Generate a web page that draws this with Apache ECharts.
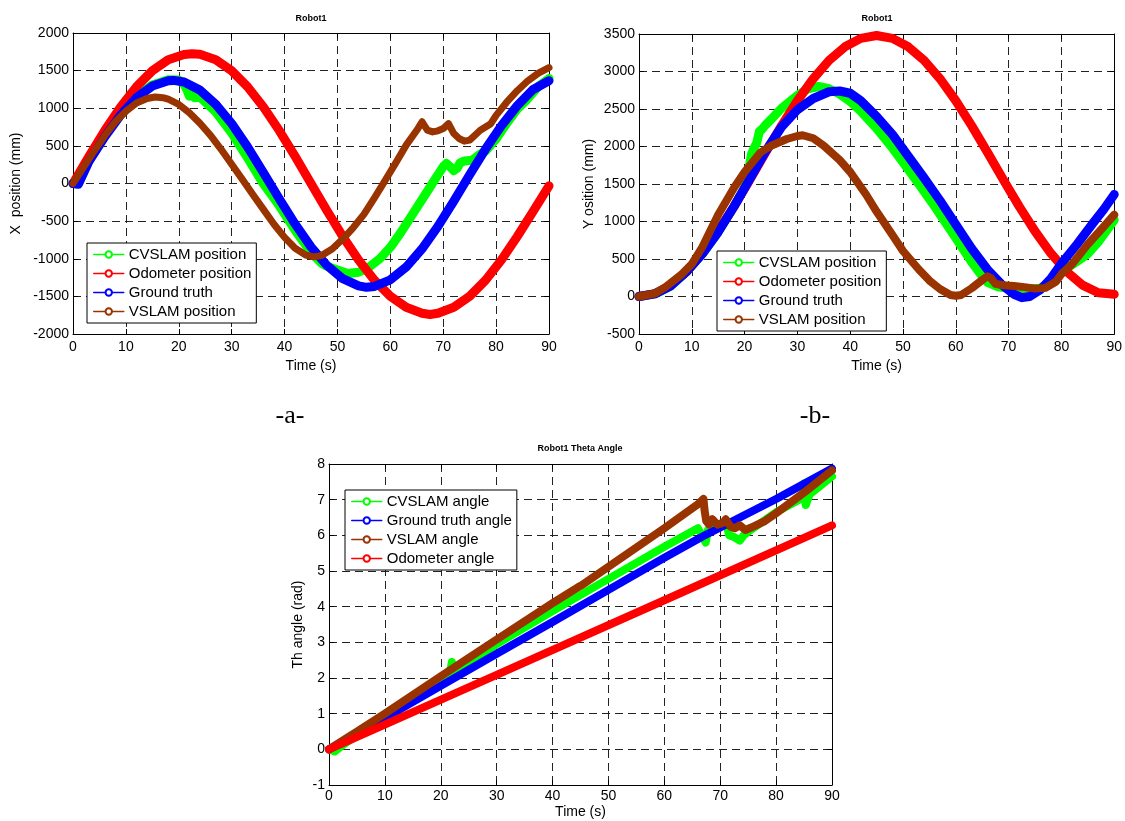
<!DOCTYPE html>
<html>
<head>
<meta charset="utf-8">
<script src="https://cdn.jsdelivr.net/npm/echarts@6/dist/echarts.min.js"></script>
<style>
  html, body { margin: 0; padding: 0; background: #fff; }
  #chart { width: 1125px; height: 821px; }
</style>
</head>
<body>
<div id="chart"></div>
<script>
// ---- Panel a: X position (mm) over time (s), [t, value] pairs ----
const posXCvslam = [[0,0],[1,-5],[3,300],[6,635],[9,925],[12,1155],[15,1310],[18,1380],[20,1375],[21,1320],[21.5,1250],[22,1160],[22.5,1200],[23,1140],[24,1150],[27,950],[30,669],[33,340],[36,-5],[39,-295],[42,-623],[45,-916],[47,-1060],[48,-1100],[50,-1150],[52,-1195],[54,-1180],[56,-1110],[58,-1000],[60,-848],[62,-650],[64,-430],[66,-212],[68,6],[70,225],[70.6,265],[71.2,230],[72,170],[72.6,200],[73.2,275],[74,300],[75.5,310],[77,390],[78,430],[80,590],[82,800],[84,990],[85.5,1090],[86,1130],[88,1290],[90,1395]];
const posXOdometer = [[0,0],[3,360],[6,704],[9,1017],[12,1286],[15,1498],[18,1645],[21,1715],[22.5,1725],[24,1718],[27,1645],[30,1498],[33,1286],[36,1017],[39,704],[42,360],[45,0],[48,-360],[51,-704],[54,-1017],[57,-1286],[60,-1498],[63,-1645],[66,-1725],[67.5,-1740],[69,-1725],[72,-1645],[75,-1498],[78,-1286],[81,-1017],[84,-704],[87,-370],[90,-30]];
const posXGround = [[0,0],[1,-10],[3,290],[6,620],[9,910],[12,1140],[15,1295],[18,1365],[19,1370],[21,1348],[24,1241],[27,1052],[30,796],[33,487],[36,146],[39,-203],[42,-539],[45,-843],[48,-1088],[51,-1265],[54,-1360],[55.5,-1380],[57,-1368],[60,-1280],[63,-1111],[66,-868],[69,-571],[72,-234],[75,116],[78,458],[81,768],[84,1035],[87,1250],[90,1365]];
const posXVslam = [[0,0],[2,215],[4,430],[6,635],[8,820],[10,960],[12,1070],[14,1130],[15.5,1150],[17,1140],[18,1120],[20,1050],[22,940],[24,800],[26,640],[28,455],[30,255],[32,55],[34,-145],[36,-344],[38,-541],[40,-716],[42,-860],[44,-950],[45.5,-975],[47,-957],[49,-870],[51,-738],[53,-585],[55,-410],[57,-190],[59,37],[61,270],[63,510],[65,707],[66,820],[67,710],[68,686],[69,700],[70,730],[71,795],[72,664],[73,598],[74,563],[75,576],[76,642],[77,707],[78,751],[79,795],[80,905],[82,1080],[84,1233],[86,1365],[88,1466],[90,1540]];

// ---- Panel b: Y position (mm) over time (s) ----
const posYCvslam = [[0,0],[3,35],[6,140],[9,330],[12,570],[15,860],[18,1200],[20,1450],[20.8,1700],[21.3,1900],[21.8,1980],[22.3,2050],[22.8,2200],[23.3,2230],[24,2290],[25,2360],[27,2510],[30,2680],[32,2770],[34,2800],[36,2770],[38,2700],[40,2600],[42,2470],[45,2240],[48,1980],[50,1790],[53,1500],[56,1200],[60,780],[63,460],[65,270],[66,190],[68,130],[70,110],[73,100],[76,110],[78,200],[80,330],[83,470],[85,570],[87,730],[90,1020]];
const posYOdometer = [[0,0],[3,38],[6,151],[9,332],[12,576],[15,870],[18,1202],[21,1558],[24,1922],[27,2278],[30,2610],[33,2904],[36,3148],[39,3329],[42,3442],[45,3480],[48,3442],[51,3329],[54,3148],[57,2904],[60,2610],[63,2278],[66,1922],[69,1558],[72,1202],[75,870],[78,576],[81,332],[84,151],[87,50],[90,30]];
const posYGround = [[0,0],[3,35],[6,140],[9,330],[12,570],[15,860],[18,1200],[21,1570],[24,1940],[27,2260],[30,2490],[33,2640],[36,2730],[38,2740],[40,2710],[42,2610],[45,2400],[48,2160],[51,1870],[54,1580],[57,1280],[60,960],[63,640],[66,360],[69,140],[71,30],[72.5,-15],[74,0],[76,90],[78,240],[80,440],[83,700],[86,980],[88,1160],[90,1360]];
const posYVslam = [[0,0],[3,40],[5,126],[8,290],[10,433],[12,660],[15,1090],[18,1450],[20,1660],[23,1920],[25,2010],[28,2100],[30,2140],[31,2150],[33,2110],[35,2010],[38,1820],[40,1660],[43,1360],[45,1133],[48,820],[50,607],[53,360],[55,213],[57,100],[59,20],[60,10],[61,20],[63,110],[65,220],[66,270],[66.6,250],[67.5,170],[69,150],[71,140],[73,125],[75,105],[77,115],[79,200],[80,300],[82,430],[85,696],[88,930],[90,1090]];

// ---- Panel c: heading angle (rad) over time (s) ----
const thCvslam = [[0,0],[1,-0.06],[3,0.18],[10,0.9],[20,1.95],[21.5,2.05],[22,2.45],[22.4,2.15],[30,2.95],[40,3.88],[50,4.78],[60,5.68],[66,6.2],[67.4,5.8],[67.8,6.15],[70,6.3],[71,6.38],[71.6,6.0],[72.5,5.95],[73.5,5.85],[74.2,6.0],[75,6.1],[80,6.65],[84.7,7.05],[85,7.45],[85.3,6.85],[86,7.15],[90,7.65]];
const thGround = [[0,0],[10,0.88],[20,1.78],[30,2.68],[40,3.57],[50,4.47],[60,5.37],[67,5.98],[70,6.22],[80,7.02],[90,7.87]];
const thVslam = [[0,0],[3,0.3],[5,0.5],[10,1.0],[20,2.05],[30,3.08],[40,4.1],[44.6,4.55],[44.8,4.5],[45.2,4.6],[50,5.12],[60,6.2],[66,6.87],[67,7.02],[67.2,6.7],[67.5,6.4],[68,6.3],[68.6,6.45],[69.5,6.3],[70.5,6.35],[71,6.45],[71.8,6.25],[72.6,6.2],[73.5,6.28],[74.5,6.15],[76,6.25],[78,6.4],[80,6.62],[85,7.2],[90,7.82]];
const thOdometer = [[0,0],[30,2.09],[60,4.18],[90,6.28]];

const posNames = ['CVSLAM position', 'Odometer position', 'Ground truth', 'VSLAM position'];
const angleNames = ['CVSLAM angle', 'Ground truth angle', 'VSLAM angle', 'Odometer angle'];

const GREEN = '#00ff00', RED = '#ff0000', BLUE = '#0000ff', BROWN = '#993300';
const FONT = "'Liberation Sans', Arial, sans-serif";
const plain = v => String(v);
const DASH = [8, 5];

function timeAxes(gi, nameGap, labelMargin) {
  return [{
    type: 'value', gridIndex: gi, min: 0, max: 90, interval: 10, position: 'bottom',
    name: 'Time (s)', nameLocation: 'middle', nameGap: nameGap,
    nameTextStyle: { color: '#000', fontSize: 14, fontFamily: FONT },
    axisLine: { onZero: false, lineStyle: { color: '#000', width: 1 } },
    axisTick: { inside: true, length: 5, lineStyle: { color: '#000' } },
    axisLabel: { color: '#000', fontSize: 14, fontFamily: FONT, margin: labelMargin, formatter: plain },
    splitLine: { show: true, lineStyle: { color: '#222', width: 1, type: DASH } }
  }, {
    type: 'value', gridIndex: gi, min: 0, max: 90, interval: 10, position: 'top',
    axisLine: { onZero: false, lineStyle: { color: '#000', width: 1 } },
    axisTick: { inside: true, length: 5, lineStyle: { color: '#000' } },
    axisLabel: { show: false }, splitLine: { show: false }
  }];
}

function valueAxes(gi, name, min, max, step, nameGap) {
  return [{
    type: 'value', gridIndex: gi, min: min, max: max, interval: step, position: 'left',
    name: name, nameLocation: 'middle', nameGap: nameGap,
    nameTextStyle: { color: '#000', fontSize: 14, fontFamily: FONT },
    axisLine: { onZero: false, lineStyle: { color: '#000', width: 1 } },
    axisTick: { inside: true, length: 5, lineStyle: { color: '#000' } },
    axisLabel: { color: '#000', fontSize: 14, fontFamily: FONT, margin: 4, formatter: plain },
    splitLine: { show: true, lineStyle: { color: '#222', width: 1, type: DASH } }
  }, {
    type: 'value', gridIndex: gi, min: min, max: max, interval: step, position: 'right',
    axisLine: { onZero: false, lineStyle: { color: '#000', width: 1 } },
    axisTick: { inside: true, length: 5, lineStyle: { color: '#000' } },
    axisLabel: { show: false }, splitLine: { show: false }
  }];
}

function curve(name, data, color, width, panel) {
  return {
    type: 'line', name: name, data: data,
    xAxisIndex: panel * 2, yAxisIndex: panel * 2,
    symbol: 'emptyCircle', showSymbol: false, smooth: false,
    lineStyle: { color: color, width: width, cap: 'round', join: 'round' },
    itemStyle: { color: color },
    silent: true, animation: false
  };
}

function legendBox(names, left, top) {
  return {
    data: names, orient: 'vertical', left: left, top: top,
    itemWidth: 30, itemHeight: 8, itemGap: 4, padding: [4, 5, 4, 6],
    borderColor: '#000', borderWidth: 1, backgroundColor: '#fff',
    selectedMode: false,
    textStyle: { color: '#000', fontSize: 15, fontFamily: FONT, lineHeight: 15 },
    lineStyle: { width: 1.5 }
  };
}

function label(text, x, y, font) {
  return { type: 'text', x: x, y: y, silent: true,
    style: { text: text, font: font, fill: '#000', align: 'center', verticalAlign: 'middle',
             textAlign: 'center', textVerticalAlign: 'middle' } };
}

const chart = echarts.init(document.getElementById('chart'), null, { renderer: 'canvas' });
chart.setOption({
  animation: false,
  backgroundColor: '#fff',
  grid: [
    { left: 73, top: 33, width: 476, height: 301 },
    { left: 639, top: 34, width: 476, height: 300 },
    { left: 329, top: 464, width: 503, height: 321 }
  ],
  xAxis: [].concat(timeAxes(0, 25, 6), timeAxes(1, 25, 6), timeAxes(2, 20, 4)),
  yAxis: [].concat(
    valueAxes(0, 'X  position (mm)', -2000, 2000, 500, 50),
    valueAxes(1, 'Y osition (mm)', -500, 3500, 500, 43),
    valueAxes(2, 'Th angle (rad)', -1, 8, 1, 24)
  ),
  legend: [
    legendBox(posNames, 87, 243),
    legendBox(posNames, 717, 251),
    legendBox(angleNames, 345, 490)
  ],
  graphic: [
    label('Robot1', 311, 19, "bold 9px 'Liberation Sans', Arial, sans-serif"),
    label('Robot1', 877, 19, "bold 9px 'Liberation Sans', Arial, sans-serif"),
    label('Robot1 Theta Angle', 580, 449, "bold 9px 'Liberation Sans', Arial, sans-serif"),
    label('-a-', 290, 416, "26px 'Liberation Serif', 'Times New Roman', serif"),
    label('-b-', 815, 416, "26px 'Liberation Serif', 'Times New Roman', serif")
  ],
  series: [
    curve(posNames[0], posXCvslam, GREEN, 9, 0),
    curve(posNames[1], posXOdometer, RED, 9, 0),
    curve(posNames[2], posXGround, BLUE, 9, 0),
    curve(posNames[3], posXVslam, BROWN, 7, 0),
    curve(posNames[0], posYCvslam, GREEN, 9, 1),
    curve(posNames[1], posYOdometer, RED, 9, 1),
    curve(posNames[2], posYGround, BLUE, 9, 1),
    curve(posNames[3], posYVslam, BROWN, 8, 1),
    curve(angleNames[0], thCvslam, GREEN, 8, 2),
    curve(angleNames[1], thGround, BLUE, 8, 2),
    curve(angleNames[2], thVslam, BROWN, 8, 2),
    curve(angleNames[3], thOdometer, RED, 8, 2)
  ]
});
</script>
</body>
</html>
